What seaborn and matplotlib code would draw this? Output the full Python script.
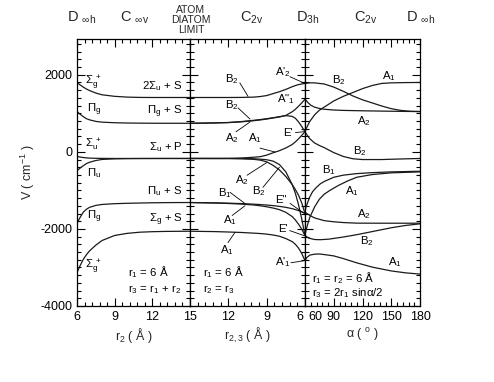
import matplotlib
matplotlib.use('Agg')
import matplotlib.pyplot as plt
import matplotlib.transforms as mtransforms
from matplotlib.ticker import MultipleLocator, AutoMinorLocator
import seaborn as sns

# ---------------- data: left panel (r2, linear r3 = r1 + r2) ----------------
r2_grid = [6, 6.25, 6.5, 6.75, 7, 7.5, 8, 9, 10, 11, 12, 13, 14, 15]
L_sigg_top = [1800, 1735, 1680, 1630, 1590, 1525, 1480, 1440, 1420, 1412, 1410, 1410, 1410, 1410]
L_pig_top = [1044, 975, 913, 860, 830, 790, 770, 755, 748, 744, 742, 741, 741, 741]
L_sigu = [-120, -135, -148, -157, -163, -168, -170, -172, -172, -172, -172, -172, -172, -172]
L_piu = [-490, -420, -360, -305, -270, -225, -197, -182, -176, -174, -173, -172, -172, -172]
L_pig_low = [-1852, -1700, -1565, -1490, -1440, -1390, -1365, -1345, -1335, -1328, -1322, -1318, -1316, -1315]
L_sigg_low = [-3131, -2950, -2790, -2670, -2570, -2420, -2300, -2170, -2115, -2085, -2072, -2065, -2062, -2060]

# ---------------- data: middle panel (r2 = r3) ----------------
r23_grid = [15, 14, 13, 12, 11, 10, 9.5, 9, 8.5, 8, 7.5, 7, 6.75, 6.5, 6.25, 6]
M_b2_top = [1410, 1410, 1410, 1410, 1412, 1420, 1435, 1460, 1510, 1560, 1620, 1690, 1720, 1745, 1762, 1775]
M_b2_pig = [741, 745, 752, 762, 785, 818, 838, 860, 885, 912, 940, 920, 870, 775, 655, 522]
M_a2_pig = [741, 744, 750, 758, 778, 808, 828, 850, 878, 905, 945, 1040, 1105, 1185, 1270, 1367]
M_a1_sigu = [-172, -172, -172, -170, -160, -140, -125, -85, -25, 30, 100, 190, 260, 340, 430, 522]
M_a2_sigu = [-172, -172, -173, -174, -180, -195, -215, -260, -350, -470, -640, -850, -980, -1130, -1330, -1600]
M_b2_sigu = [-172, -172, -172, -172, -174, -180, -190, -205, -240, -330, -520, -850, -1080, -1380, -1750, -2173]
M_b1_piu = [-1315, -1320, -1325, -1332, -1342, -1358, -1368, -1380, -1396, -1415, -1440, -1475, -1498, -1525, -1558, -1600]
M_a1_piu = [-1315, -1322, -1328, -1340, -1355, -1380, -1400, -1425, -1458, -1500, -1570, -1680, -1770, -1880, -2010, -2173]
M_a1_sigg = [-2060, -2065, -2070, -2080, -2092, -2110, -2120, -2135, -2158, -2190, -2250, -2330, -2400, -2500, -2640, -2825]

# ---------------- data: right panel (alpha, r1 = r2 = 6) ----------------
a_b2_top = [60, 65, 70, 80, 90, 100, 110, 120, 130, 140, 150, 160, 170, 180]
R_b2_top = [1775, 1790, 1790, 1760, 1680, 1570, 1450, 1350, 1270, 1190, 1120, 1075, 1052, 1045]
a_a2_top = [60, 63, 66, 70, 75, 80, 90, 100, 120, 140, 160, 180]
R_a2_top = [1367, 1280, 1210, 1160, 1125, 1105, 1085, 1075, 1065, 1057, 1050, 1045]
a_a1_top = [60, 62, 65, 70, 75, 80, 90, 100, 110, 120, 130, 140, 150, 165, 180]
R_a1_top = [522, 640, 790, 960, 1080, 1160, 1320, 1440, 1540, 1640, 1720, 1775, 1790, 1797, 1800]
a_b2_mid = [60, 62, 65, 70, 75, 80, 90, 100, 110, 120, 140, 160, 180]
R_b2_mid = [522, 440, 340, 230, 165, 110, -20, -120, -180, -200, -200, -185, -172]
a_b1 = [60, 61, 63, 65, 68, 72, 76, 80, 90, 100, 114, 130, 150, 180]
R_b1 = [-1565, -1430, -1300, -1170, -1030, -920, -830, -770, -660, -605, -565, -540, -520, -504]
a_a1_mid = [60, 61, 63, 65, 70, 75, 80, 86, 95, 105, 114, 130, 150, 180]
R_a1_mid = [-2173, -2040, -1860, -1700, -1430, -1230, -1100, -1000, -870, -750, -660, -590, -545, -520]
a_a2_low = [60, 65, 70, 80, 90, 100, 114, 140, 180]
R_a2_low = [-1565, -1650, -1715, -1785, -1815, -1835, -1850, -1852, -1852]
a_b2_low = [60, 64, 70, 76, 85, 100, 114, 130, 150, 165, 180]
R_b2_low = [-2173, -2240, -2275, -2280, -2265, -2210, -2150, -2070, -1970, -1910, -1868]
a_a1_low = [60, 62, 65, 70, 75, 80, 90, 100, 114, 130, 150, 165, 180]
R_a1_low = [-2825, -2740, -2680, -2655, -2650, -2665, -2700, -2770, -2880, -2990, -3090, -3140, -3172]

top_labels = [r'D $_{\infty\mathrm{h}}$', r'C $_{\infty\mathrm{v}}$', 'ATOM\nDIATOM\nLIMIT',
              r'C$_{\mathrm{2v}}$', r'D$_{\mathrm{3h}}$', r'C$_{\mathrm{2v}}$', r'D $_{\infty\mathrm{h}}$']

# ---------------- style ----------------
sns.set_style('ticks')
plt.rcParams['font.family'] = ['Liberation Sans', 'DejaVu Sans']
plt.rcParams['mathtext.fontset'] = 'custom'
plt.rcParams['mathtext.rm'] = 'Liberation Sans'
plt.rcParams['mathtext.it'] = 'Liberation Sans:italic'
plt.rcParams['mathtext.bf'] = 'Liberation Sans:bold'
plt.rcParams['axes.unicode_minus'] = False

W, H = 494, 382
fig = plt.figure(figsize=(W / 100, H / 100), dpi=100)
y0 = 1 - 306 / H
hh = (306 - 39.3) / H
axL = fig.add_axes([77 / W, y0, 113 / W, hh])
axM = fig.add_axes([190 / W, y0, 115 / W, hh])
axR = fig.add_axes([305 / W, y0, 115 / W, hh])

LC = '#1a1a1a'
LW = 0.9


def draw(ax, x, y):
    sns.lineplot(x=x, y=y, ax=ax, color=LC, lw=LW, estimator=None, sort=False)


for yy in [L_sigg_top, L_pig_top, L_sigu, L_piu, L_pig_low, L_sigg_low]:
    draw(axL, r2_grid, yy)
for yy in [M_b2_top, M_b2_pig, M_a2_pig, M_a1_sigu, M_a2_sigu, M_b2_sigu, M_b1_piu, M_a1_piu, M_a1_sigg]:
    draw(axM, r23_grid, yy)
for xx, yy in [(a_b2_top, R_b2_top), (a_a2_top, R_a2_top), (a_a1_top, R_a1_top), (a_b2_mid, R_b2_mid),
               (a_b1, R_b1), (a_a1_mid, R_a1_mid), (a_a2_low, R_a2_low), (a_b2_low, R_b2_low),
               (a_a1_low, R_a1_low)]:
    draw(axR, xx, yy)

for ax in (axL, axM, axR):
    ax.set_ylim(-4000, 2920)
    ax.yaxis.set_major_locator(MultipleLocator(2000))
    ax.yaxis.set_minor_locator(MultipleLocator(200))
    ax.xaxis.set_minor_locator(AutoMinorLocator(5))
    ax.tick_params(which='both', direction='in', top=True, right=True, left=True, bottom=True,
                   width=0.8, colors='black', labelsize=9, pad=3.5)
    ax.tick_params(which='major', length=6)
    ax.tick_params(which='minor', length=3)
    for s in ax.spines.values():
        s.set_linewidth(0.9)
        s.set_color('black')
    ax.set_xlabel('')
    ax.set_ylabel('')

axL.set_xlim(6, 15)
axL.set_xticks([6, 9, 12, 15], labels=['6', '9', '12', '15'])
axL.set_yticks([-4000, -2000, 0, 2000], labels=['-4000', '-2000', '0', '2000'])
axM.set_xlim(15, 6)
axM.set_xticks([15, 12, 9, 6], labels=['', '12', '9', '6'])
axM.tick_params(labelleft=False)
axR.set_xlim(60, 180)
axR.set_xticks([60, 90, 120, 150, 180], labels=['60', '90', '120', '150', '180'])
axR.tick_params(labelleft=False)

labM = axM.get_xticklabels()[3]
labM.set_horizontalalignment('right')
labM.set_transform(labM.get_transform() + mtransforms.ScaledTranslation(-2 / 100, 0, fig.dpi_scale_trans))
labR = axR.get_xticklabels()[0]
labR.set_horizontalalignment('left')
labR.set_transform(labR.get_transform() + mtransforms.ScaledTranslation(3 / 100, 0, fig.dpi_scale_trans))

axL.set_ylabel('V ( cm$^{-1}$ )', fontsize=9, labelpad=2)
axL.set_xlabel('r$_2$ ( Å )', fontsize=9, labelpad=2)
axM.set_xlabel('r$_{2,3}$ ( Å )', fontsize=9, labelpad=2)
axR.set_xlabel('α ( $^{\\mathrm{o}}$ )', fontsize=9, labelpad=2)

FS = 8.2


def lab(ax, x, y, s, ha='left'):
    ax.text(x, y, s, fontsize=FS, ha=ha, va='center', color='black')


def ptr(ax, x1, y1, x2, y2):
    ax.annotate('', xy=(x2, y2), xytext=(x1, y1),
                arrowprops=dict(arrowstyle='-', lw=0.6, color='black', shrinkA=0, shrinkB=0))


# left panel labels
lab(axL, 6.64, 1800, r'$\Sigma_{\mathrm{g}}^{\ +}$')
lab(axL, 14.4, 1700, r'2$\Sigma_{\mathrm{u}}$ + S', ha='right')
lab(axL, 6.8, 1080, r'$\Pi_{\mathrm{g}}$')
lab(axL, 14.4, 1030, r'$\Pi_{\mathrm{g}}$ + S', ha='right')
lab(axL, 6.64, 170, r'$\Sigma_{\mathrm{u}}^{\ +}$')
lab(axL, 14.4, 120, r'$\Sigma_{\mathrm{u}}$ + P', ha='right')
lab(axL, 6.8, -560, r'$\Pi_{\mathrm{u}}$')
lab(axL, 14.4, -1030, r'$\Pi_{\mathrm{u}}$ + S', ha='right')
lab(axL, 6.8, -1680, r'$\Pi_{\mathrm{g}}$')
lab(axL, 14.4, -1760, r'$\Sigma_{\mathrm{g}}$ + S', ha='right')
lab(axL, 6.64, -2980, r'$\Sigma_{\mathrm{g}}^{\ +}$')
lab(axL, 10.06, -3110, 'r$_1$ = 6 Å')
lab(axL, 10.06, -3580, 'r$_3$ = r$_1$ + r$_2$')

# middle panel labels
lab(axM, 12.26, 1890, 'B$_2$'); ptr(axM, 11.1, 1790, 10.46, 1440)
lab(axM, 8.35, 2080, "A'$_2$"); ptr(axM, 7.18, 1950, 6.05, 1780)
lab(axM, 8.19, 1380, 'A"$_1$')
lab(axM, 12.26, 1220, 'B$_2$'); ptr(axM, 11.24, 1140, 10.3, 850)
lab(axM, 12.26, 360, 'A$_2$'); ptr(axM, 11.4, 520, 10.3, 775)
lab(axM, 10.46, 360, 'A$_1$'); ptr(axM, 9.52, 96, 8.35, -5)
lab(axM, 7.72, 490, "E'"); ptr(axM, 6.75, 500, 6.1, 522)
lab(axM, 11.48, -740, 'A$_2$'); ptr(axM, 10.54, -608, 9.0, -280)
lab(axM, 10.15, -1025, 'B$_2$'); ptr(axM, 9.29, -921, 8.0, -400)
lab(axM, 12.8, -1077, 'B$_1$'); ptr(axM, 11.87, -1051, 10.7, -1340)
lab(axM, 8.35, -1260, 'E"'); ptr(axM, 7.17, -1338, 6.12, -1585)
lab(axM, 12.42, -1782, 'A$_1$'); ptr(axM, 11.7, -1651, 10.7, -1400)
lab(axM, 12.65, -2540, 'A$_1$'); ptr(axM, 12.03, -2356, 11.48, -2090)
lab(axM, 8.11, -1990, "E'"); ptr(axM, 7.2, -2043, 6.08, -2173)
lab(axM, 8.35, -2850, "A'$_1$"); ptr(axM, 7.1, -2878, 6.08, -2826)
lab(axM, 13.98, -3110, 'r$_1$ = 6 Å')
lab(axM, 13.98, -3580, 'r$_2$ = r$_3$')

# right panel labels
lab(axR, 88.2, 1870, 'B$_2$')
lab(axR, 140.3, 1975, 'A$_1$')
lab(axR, 114.3, 800, 'A$_2$')
lab(axR, 110.0, 18, 'B$_2$')
lab(axR, 77.7, -477, 'B$_1$')
lab(axR, 101.7, -1025, 'A$_1$')
lab(axR, 114.3, -1625, 'A$_2$')
lab(axR, 117.4, -2304, 'B$_2$')
lab(axR, 146.6, -2852, 'A$_1$')
lab(axR, 67.3, -3269, 'r$_1$ = r$_2$ = 6 Å')
lab(axR, 67.3, -3661, 'r$_3$ = 2r$_1$ sinα/2')

# top symmetry labels
top_x = [82, 135, 191, 252, 308, 366, 421]
for xp, s in zip(top_x, top_labels):
    if '\n' in s:
        fig.text(xp / W, 1 - 20 / H, s, fontsize=7.5, ha='center', va='center', linespacing=1.0)
    else:
        fig.text(xp / W, 1 - 22 / H, s, fontsize=10.5, ha='center', va='baseline')

fig.savefig('out.png', dpi=100)
